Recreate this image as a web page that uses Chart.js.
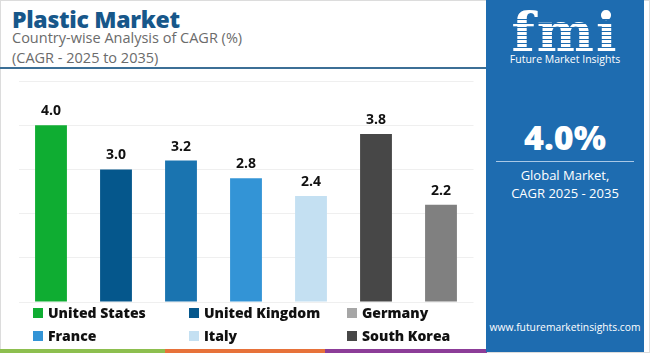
<!DOCTYPE html>
<html>
<head>
<meta charset="utf-8">
<script src="https://cdn.jsdelivr.net/npm/chart.js@4"></script>
<style>
  html, body { margin: 0; padding: 0; }
  body { width: 650px; height: 353px; position: relative; overflow: hidden; background: #fff; font-family: "Open Sans", sans-serif; }
  .frame { position: absolute; left: 0; top: 0; width: 648px; height: 351px; border: 1px solid #dcdcdc; }
  .title { position: absolute; left: 12px; top: 3px; font-size: 23px; font-weight: 800; color: #17578a; letter-spacing: -0.3px; }
  .sub { position: absolute; left: 12px; font-size: 14.5px; color: #6b6b6b; }
  .rule { position: absolute; left: 0; top: 67px; width: 490px; height: 2px; background: #3c6f96; }
  .chart-box { position: absolute; left: 0; top: 70px; width: 480px; height: 240px; }
  .legend { position: absolute; left: 0; top: 302px; width: 480px; height: 46px; }
  .legend div { position: absolute; font-size: 14px; font-weight: 800; color: #111; white-space: nowrap; line-height: 20px; }
  .legend span { display: inline-block; width: 10px; height: 10px; margin-right: 5px; vertical-align: 0px; }
  .stripe { position: absolute; top: 349px; height: 4px; }
  .panel { position: absolute; left: 486px; top: 0; width: 158px; height: 352px; background: #1e6cb0; color: #fff; text-align: center; }
  .logo { position: absolute; left: 0; width: 158px; top: 0px; font-family: "DejaVu Serif", serif; font-size: 54px; font-weight: bold; letter-spacing: 2px; }
  .logo-lines { position: absolute; left: 20px; width: 118px; top: 16px; height: 36px;
    background: repeating-linear-gradient(to bottom, transparent 0, transparent 3px, #1e6cb0 3px, #1e6cb0 4px); }
  .brand { position: absolute; left: 0; width: 158px; top: 52px; font-size: 10.5px; }
  .big { position: absolute; left: 0; width: 158px; top: 114px; font-size: 34px; font-weight: 800; }
  .line { position: absolute; left: 10px; width: 138px; top: 161px; height: 1px; background: #a9c8e6; }
  .gm { position: absolute; left: 0; width: 158px; top: 166px; font-size: 13px; line-height: 18px; }
  .url { position: absolute; left: 0; width: 158px; top: 320px; font-size: 10.3px; }
</style>
</head>
<body>
<div class="frame"></div>
<div class="title">Plastic Market</div>
<div class="sub" style="top:28px">Country-wise Analysis of CAGR (%)</div>
<div class="sub" style="top:48px">(CAGR - 2025 to 2035)</div>
<div class="rule"></div>
<div class="chart-box"><canvas id="chart"></canvas></div>
<div class="legend" id="legend"></div>
<div class="stripe" style="left:0;width:165px;background:#8dbf4f"></div>
<div class="stripe" style="left:165px;width:160px;background:#e7723a"></div>
<div class="stripe" style="left:325px;width:162px;background:#8c3d98"></div>
<div class="panel">
  <div class="logo">fmi</div>
  <div class="logo-lines"></div>
  <div class="brand">Future Market Insights</div>
  <div class="big">4.0%</div>
  <div class="line"></div>
  <div class="gm">Global Market,<br>CAGR 2025 - 2035</div>
  <div class="url">www.futuremarketinsights.com</div>
</div>
<script>
const barKeys = ['b1', 'b2', 'b3', 'b4', 'b5', 'b6', 'b7'];
const barValues = [4.0, 3.0, 3.2, 2.8, 2.4, 3.8, 2.2];
const barColors = ['#0fad32', '#05578c', '#1a74b0', '#3394d6', '#c4e0f2', '#474747', '#808080'];

const legendLabels = ['United States', 'United Kingdom', 'Germany', 'France', 'Italy', 'South Korea'];
const legendColors = ['#0fad32', '#05578c', '#a6a6a6', '#3394d6', '#c4e0f2', '#474747'];

const yTicks = [0, 1, 2, 3, 4, 5];

// legend: 3 columns, 2 rows
const legendX = [33, 189, 347];
const legendY = [1, 24];
const legendEl = document.getElementById('legend');
legendLabels.forEach((name, i) => {
  const d = document.createElement('div');
  d.style.left = legendX[i % 3] + 'px';
  d.style.top = legendY[Math.floor(i / 3)] + 'px';
  d.innerHTML = '<span style="background:' + legendColors[i] + '"></span>' + name;
  legendEl.appendChild(d);
});

const valueLabels = {
  id: 'valueLabels',
  afterDatasetsDraw(chart) {
    const ctx = chart.ctx;
    const meta = chart.getDatasetMeta(0);
    ctx.save();
    ctx.font = 'bold 14px "Open Sans", sans-serif';
    ctx.fillStyle = '#111';
    ctx.textAlign = 'center';
    ctx.textBaseline = 'middle';
    meta.data.forEach((bar, i) => {
      ctx.fillText(barValues[i].toFixed(1), bar.x, bar.y - 14);
    });
    ctx.restore();
  }
};

new Chart(document.getElementById('chart').getContext('2d'), {
  type: 'bar',
  data: {
    labels: barKeys,
    datasets: [{
      data: barValues,
      backgroundColor: barColors,
      barPercentage: 0.49,
      categoryPercentage: 1.0
    }]
  },
  options: {
    responsive: true,
    maintainAspectRatio: false,
    animation: false,
    layout: { padding: { left: 18.5, right: 6.5, top: 11, bottom: 8 } },
    scales: {
      x: { display: false },
      y: {
        min: yTicks[0],
        max: yTicks[yTicks.length - 1],
        ticks: { display: false, stepSize: 1 },
        grid: { color: '#efefef', drawTicks: false },
        border: { display: false }
      }
    },
    plugins: {
      legend: { display: false },
      tooltip: { enabled: false }
    }
  },
  plugins: [valueLabels]
});
</script>
</body>
</html>
